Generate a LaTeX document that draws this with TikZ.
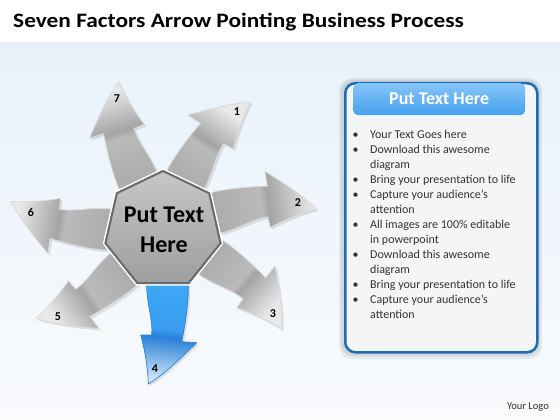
\documentclass[tikz,border=0pt]{standalone}
\usepackage{fontspec}
\setmainfont{Carlito}
\newfontfamily\titlefont[FakeStretch=1.14]{Carlito}
\usetikzlibrary{shapes.geometric}
\definecolor{bgblue}{HTML}{E8F1FA}
\definecolor{bgbot}{HTML}{F9FBFD}
\definecolor{boxblue}{HTML}{1B6DB6}
\definecolor{boxfill}{HTML}{F4F5F6}
\definecolor{headtop}{HTML}{86C5F8}
\definecolor{headbot}{HTML}{45A0EE}
\definecolor{gshaft}{HTML}{ADADAD}
\definecolor{gshaftb}{HTML}{BABABA}
\definecolor{gbarb}{HTML}{A4A4A4}
\definecolor{gtip}{HTML}{E8E8E8}
\definecolor{bshaft}{HTML}{3DA8F5}
\definecolor{bshaftb}{HTML}{3A9CEE}
\definecolor{bbarb}{HTML}{2A80D8}
\definecolor{btip}{HTML}{D3E7F9}
\definecolor{txt}{HTML}{333333}
\pgfdeclareverticalshading{grayarr}{100bp}{color(0bp)=(gshaft); color(38bp)=(gshaft); color(55bp)=(gshaftb); color(58bp)=(gbarb); color(75bp)=(gtip); color(100bp)=(gtip)}
\pgfdeclareverticalshading{bluearr}{100bp}{color(0bp)=(bshaft); color(38bp)=(bshaft); color(55bp)=(bshaftb); color(58bp)=(bbarb); color(75bp)=(btip); color(100bp)=(btip)}
\tikzset{
  grayarrow/.style={shading=grayarr, draw=white!70!gray, line width=0.8},
  bluearrow/.style={shading=bluearr, draw=bbarb, line width=0.7},
  arrowshadow/.style={fill=black, opacity=0.10},
  numlabel/.style={font=\fontsize{12}{13}\selectfont\bfseries, text=black, inner sep=0},
  bullettext/.style={anchor=base west, inner sep=0, text=txt, font=\fontsize{12}{14}\selectfont},
}
\def\arrowpath{(-10,-20) .. controls (-14,-40) and (-16.3,-50) .. (-16.3,-58)
  .. controls (-15,-80) and (-10,-90) .. (-11.3,-105) -- (-22.3,-105)
  .. controls (-18,-120) and (-15,-140) .. (-14.7,-154)
  .. controls (2,-144) and (22,-124) .. (33.7,-112.7) -- (18.7,-111.7)
  .. controls (22,-95) and (25.3,-75) .. (25.3,-58)
  .. controls (25,-40) and (20,-25) .. (15,-20) -- cycle}
\begin{document}
\begin{tikzpicture}[x=1pt,y=1pt]
\useasboundingbox (0,0) rectangle (560,-420);
\fill[white] (0,0) rectangle (560,-420);
\shade[top color=bgblue, bottom color=bgbot] (0,-43) rectangle (560,-420);
% title
\node[anchor=base west, inner sep=0, font=\titlefont\fontsize{20.5}{24}\selectfont\bfseries] (title) at (13,-27.5) {Seven Factors Arrow Pointing Business Process};
% center
\coordinate (C) at (163,-230);
% gray arrows (rotation clockwise from arrow 4)
\foreach \r in {49.7,95.2,157.9,208.9,256.7,304.5} {
  \pgfmathsetmacro\sa{-185.5-\r}
  \begin{scope}[shift={(165,-232)}, rotate=-\r]
    \fill[arrowshadow] \arrowpath;
  \end{scope}
  \begin{scope}[shift={(C)}, rotate=-\r]
    \shade[grayarrow, shading angle=\sa] \arrowpath;
  \end{scope}
}
% blue arrow
\begin{scope}[shift={(165,-232)}]
  \fill[arrowshadow] \arrowpath;
\end{scope}
\begin{scope}[shift={(C)}]
  \shade[bluearrow, shading angle=-185.5] \arrowpath;
\end{scope}
% heptagon
\node[regular polygon, regular polygon sides=7, minimum size=122, inner sep=0, outer sep=0, draw=white, line width=1.5] (halo) at (C) {};
\node[regular polygon, regular polygon sides=7, minimum size=118, inner sep=0, outer sep=0, top color=black!22, bottom color=black!38, draw=black!58, line width=2] (hept) at (C) {};
\node[align=center, inner sep=0, font=\fontsize{24}{30}\selectfont\bfseries] (ctext) at (164,-230) {Put Text\\Here};
% numbers
\node[numlabel] (n1) at (237,-112) {1};
\node[numlabel] (n2) at (298,-203) {2};
\node[numlabel] (n3) at (273,-314) {3};
\node[numlabel] (n4) at (155,-369) {4};
\node[numlabel] (n5) at (58,-317) {5};
\node[numlabel] (n6) at (31,-212) {6};
\node[numlabel] (n7) at (117,-99) {7};
% text box
\fill[black, opacity=0.06, rounded corners=13] (339,-78) rectangle (542,-359);
\fill[black, opacity=0.08, rounded corners=11] (341,-80) rectangle (540,-356);
\node[draw=boxblue, line width=2.5, rounded corners=10, fill=boxfill, minimum width=192, minimum height=269, inner sep=0, anchor=north west] (box) at (344,-82) {};
\node[rounded corners=5, top color=headtop, bottom color=headbot, minimum width=172, minimum height=32, inner sep=0, anchor=north west, text=white, font=\fontsize{18}{20}\selectfont\bfseries] (head) at (353,-83) {Put Text Here};
\foreach \i/\b/\t in {1/1/Your Text Goes here, 2/1/Download this awesome, 3/0/diagram, 4/1/Bring your presentation to life, 5/1/Capture your audience’s, 6/0/attention, 7/1/All images are 100\% editable, 8/0/in powerpoint, 9/1/Download this awesome, 10/0/diagram, 11/1/Bring your presentation to life, 12/1/Capture your audience’s, 13/0/attention} {
  \pgfmathsetmacro\yy{-138-15*(\i-1)}
  \node[bullettext] (t\i) at (370,\yy) {\t};
  \ifnum\b=1 \node[bullettext] (b\i) at (352.5,\yy) {•}; \fi
}
\node[anchor=base east, inner sep=0, text=txt, font=\fontsize{10.5}{12}\selectfont] (logo) at (549,-409.5) {Your Logo};
\end{tikzpicture}
\end{document}
